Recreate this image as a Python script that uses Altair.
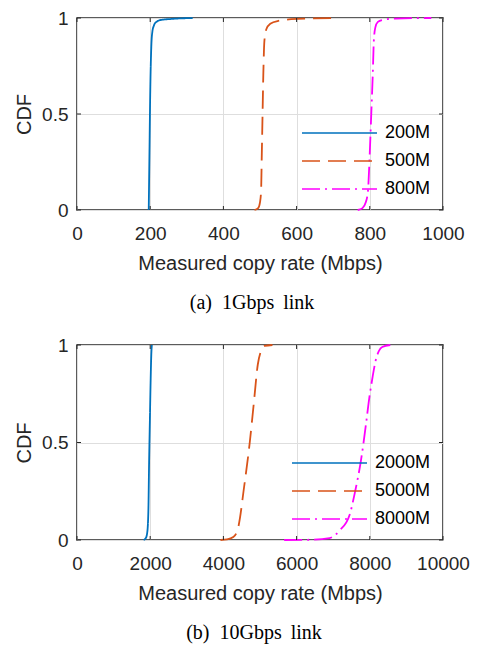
import altair as alt
import pandas as pd

# ---- panel (a): 1Gbps link ----
names_a = ["200M", "500M", "800M"]
rate_a_200 = [196, 198, 200, 203, 206, 210, 217, 230, 257, 316]
cdf_a_200 = [0, 0.3, 0.6, 0.85, 0.93, 0.96, 0.98, 0.99, 0.995, 1.0]
rate_a_500 = [485, 495, 500, 503, 505, 507, 509, 512, 517, 528, 550, 600, 700]
cdf_a_500 = [0, 0.01, 0.04, 0.1, 0.3, 0.5, 0.7, 0.88, 0.94, 0.97, 0.985, 0.995, 1.0]
rate_a_800 = [767, 780, 789, 795, 800, 804, 808, 811, 815, 822, 835, 870, 968]
cdf_a_800 = [0, 0.01, 0.04, 0.1, 0.3, 0.5, 0.7, 0.88, 0.95, 0.98, 0.99, 0.997, 1.0]
xticks_a = [0, 200, 400, 600, 800, 1000]

# ---- panel (b): 10Gbps link ----
names_b = ["2000M", "5000M", "8000M"]
rate_b_2000 = [1820, 1880, 1920, 1950, 1970, 1990, 2010, 2030, 2045]
cdf_b_2000 = [0, 0.01, 0.04, 0.15, 0.4, 0.6, 0.8, 0.95, 1.0]
rate_b_5000 = [3920, 4100, 4270, 4400, 4450, 4550, 4720, 4830, 4940, 5030, 5120, 5340]
cdf_b_5000 = [0, 0.003, 0.015, 0.06, 0.11, 0.25, 0.5, 0.7, 0.9, 0.97, 0.995, 1.0]
rate_b_8000 = [5660, 6300, 6900, 7180, 7450, 7600, 7760, 7900, 7980, 8080, 8160, 8250, 8340, 8560]
cdf_b_8000 = [0, 0.001, 0.01, 0.05, 0.13, 0.25, 0.41, 0.6, 0.72, 0.84, 0.92, 0.97, 0.99, 1.0]
xticks_b = [0, 2000, 4000, 6000, 8000, 10000]

yticks = [0, 0.5, 1]
colors = ["#0072BD", "#D95319", "#FF00FF"]
dashes = [[1, 0], [18, 8], [18, 5, 2, 5]]

SANS = "Liberation Sans"
SERIF = "Liberation Serif"
INK = "#262626"
W = 366
TK = 4  # inward tick length


def frame(names, rates, cdfs):
    rows = []
    for n, r, c in zip(names, rates, cdfs):
        for i, (x, y) in enumerate(zip(r, c)):
            rows.append({"series": n, "rate": x, "cdf": y, "i": i})
    return pd.DataFrame(rows)


def panel(df, names, xmax, xvals, caption, dx, H):
    legend = alt.Legend(
        title=None, orient="bottom-right", offset=12,
        symbolType="stroke", symbolSize=5625, symbolStrokeWidth=1.6,
        labelFont=SANS, labelFontSize=18, labelColor="black",
        labelOffset=7, rowPadding=10, padding=0, clipHeight=18,
    )
    xscale = alt.Scale(domain=[0, xmax], nice=False)
    yscale = alt.Scale(domain=[0, 1], nice=False)
    xaxis = alt.Axis(values=xvals, format="d", title="Measured copy rate (Mbps)",
                     labelFlush=False, labelPadding=14, titlePadding=10)
    yaxis = alt.Axis(values=yticks, format="~g", title="CDF",
                     labelPadding=9, titlePadding=7)
    lines = alt.Chart(df).mark_line(strokeWidth=1.8, interpolate="monotone").encode(
        x=alt.X("rate:Q", scale=xscale, axis=xaxis),
        y=alt.Y("cdf:Q", scale=yscale, axis=yaxis),
        color=alt.Color("series:N", scale=alt.Scale(domain=names, range=colors), legend=legend),
        strokeDash=alt.StrokeDash("series:N", scale=alt.Scale(domain=names, range=dashes), legend=legend),
        order="i:Q",
    )
    tx = pd.DataFrame({"v": xvals})
    ty = pd.DataFrame({"v": yticks})
    rule = alt.Chart(tx).mark_rule(color=INK, strokeWidth=1)
    xt_bot = rule.encode(x=alt.X("v:Q", scale=xscale, axis=xaxis), y=alt.value(H - TK), y2=alt.value(H))
    xt_top = rule.encode(x=alt.X("v:Q", scale=xscale, axis=xaxis), y=alt.value(0), y2=alt.value(TK))
    rule_y = alt.Chart(ty).mark_rule(color=INK, strokeWidth=1)
    yt_l = rule_y.encode(y=alt.Y("v:Q", scale=yscale, axis=yaxis), x=alt.value(0), x2=alt.value(TK))
    yt_r = rule_y.encode(y=alt.Y("v:Q", scale=yscale, axis=yaxis), x=alt.value(W - TK), x2=alt.value(W))
    return alt.layer(lines, xt_bot, xt_top, yt_l, yt_r).properties(
        width=W, height=H,
        title=alt.TitleParams(caption, orient="bottom", font=SERIF, fontSize=20,
                              fontWeight="normal", color="black", dx=dx, offset=20),
    )


df_a = frame(names_a, [rate_a_200, rate_a_500, rate_a_800], [cdf_a_200, cdf_a_500, cdf_a_800])
df_b = frame(names_b, [rate_b_2000, rate_b_5000, rate_b_8000], [cdf_b_2000, cdf_b_5000, cdf_b_8000])

pa = panel(df_a, names_a, 1000, xticks_a, "(a)\u00a0\u00a01Gbps\u00a0\u2009link", -8, 192)
pb = panel(df_b, names_b, 10000, xticks_b, "(b)\u00a0\u00a010Gbps\u00a0\u2009link", -6, 195)

chart = alt.vconcat(pa, pb, spacing=21).resolve_scale(
    color="independent", strokeDash="independent"
).configure(
    padding={"top": 0, "left": 5, "right": 0, "bottom": 0},
    background="white",
).configure_view(
    stroke=INK, strokeWidth=1.5,
).configure_axis(
    labelFont=SANS, labelFontSize=19, labelColor=INK,
    titleFont=SANS, titleFontSize=20, titleFontWeight="normal", titleColor=INK,
    gridColor="#dedede", gridWidth=1, domain=False, ticks=False, tickSize=0,
)

chart.save("out.html", embed_options={"renderer": "svg", "actions": False})
